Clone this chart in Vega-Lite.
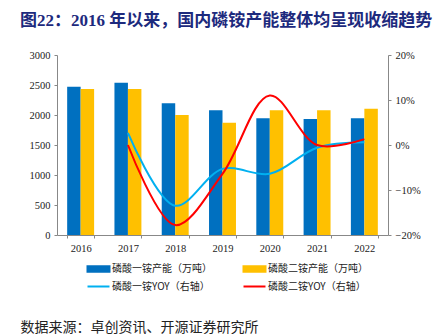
{
  "$schema": "https://vega.github.io/schema/vega-lite/v6.json",
  "width": 331,
  "height": 180,
  "autosize": {"type": "none"},
  "padding": {"left": 57, "top": 55, "right": 53, "bottom": 99},
  "background": "white",
  "config": {
    "view": {"stroke": null},
    "font": "Liberation Serif, Noto Sans CJK SC",
    "axis": {"labelFont": "Liberation Serif", "labelFontSize": 10.5, "labelColor": "#222", "domainColor": "#888", "tickColor": "#888", "tickSize": 3, "grid": false}
  },
  "title": {
    "text": "图22：2016 年以来，国内磷铵产能整体均呈现收缩趋势",
    "anchor": "start",
    "frame": "group",
    "dx": -37,
    "offset": 20,
    "fontSize": 17,
    "fontWeight": "bold",
    "color": "#1d2a7d",
    "font": "Liberation Serif, Noto Sans CJK SC"
  },
  "datasets": {
    "cap": [
      {"year": "2016", "series": "磷酸一铵产能（万吨）", "value": 2472},
      {"year": "2016", "series": "磷酸二铵产能（万吨）", "value": 2433},
      {"year": "2017", "series": "磷酸一铵产能（万吨）", "value": 2539},
      {"year": "2017", "series": "磷酸二铵产能（万吨）", "value": 2433},
      {"year": "2018", "series": "磷酸一铵产能（万吨）", "value": 2195},
      {"year": "2018", "series": "磷酸二铵产能（万吨）", "value": 2000},
      {"year": "2019", "series": "磷酸一铵产能（万吨）", "value": 2078},
      {"year": "2019", "series": "磷酸二铵产能（万吨）", "value": 1872},
      {"year": "2020", "series": "磷酸一铵产能（万吨）", "value": 1944},
      {"year": "2020", "series": "磷酸二铵产能（万吨）", "value": 2078},
      {"year": "2021", "series": "磷酸一铵产能（万吨）", "value": 1933},
      {"year": "2021", "series": "磷酸二铵产能（万吨）", "value": 2078},
      {"year": "2022", "series": "磷酸一铵产能（万吨）", "value": 1944},
      {"year": "2022", "series": "磷酸二铵产能（万吨）", "value": 2105}
    ],
    "yoy": [
      {"year": "2017", "series": "磷酸一铵YOY（右轴）", "yoy": 0.027},
      {"year": "2018", "series": "磷酸一铵YOY（右轴）", "yoy": -0.135},
      {"year": "2019", "series": "磷酸一铵YOY（右轴）", "yoy": -0.053},
      {"year": "2020", "series": "磷酸一铵YOY（右轴）", "yoy": -0.064},
      {"year": "2021", "series": "磷酸一铵YOY（右轴）", "yoy": -0.006},
      {"year": "2022", "series": "磷酸一铵YOY（右轴）", "yoy": 0.006},
      {"year": "2017", "series": "磷酸二铵YOY（右轴）", "yoy": 0.0},
      {"year": "2018", "series": "磷酸二铵YOY（右轴）", "yoy": -0.178},
      {"year": "2019", "series": "磷酸二铵YOY（右轴）", "yoy": -0.064},
      {"year": "2020", "series": "磷酸二铵YOY（右轴）", "yoy": 0.11},
      {"year": "2021", "series": "磷酸二铵YOY（右轴）", "yoy": 0.0},
      {"year": "2022", "series": "磷酸二铵YOY（右轴）", "yoy": 0.013}
    ]
  },
  "layer": [
    {
      "data": {"name": "cap"},
      "mark": {"type": "bar"},
      "encoding": {
        "x": {
          "field": "year", "type": "nominal",
          "scale": {"paddingInner": 0.43, "paddingOuter": 0.215},
          "axis": {
            "labelAngle": 0, "tickBand": "extent", "labelPadding": 5,
            "title": "数据来源：卓创资讯、开源证券研究所",
            "titleAnchor": "start", "titleAlign": "left", "titleBaseline": "middle",
            "titleX": -37, "titleY": 92,
            "titleFont": "Noto Sans CJK SC", "titleFontSize": 14, "titleFontWeight": "normal", "titleColor": "#222"
          }
        },
        "xOffset": {"field": "series", "type": "nominal", "sort": ["磷酸一铵产能（万吨）", "磷酸二铵产能（万吨）"]},
        "y": {
          "field": "value", "type": "quantitative",
          "scale": {"domain": [0, 3000]},
          "axis": {"values": [0, 500, 1000, 1500, 2000, 2500, 3000], "format": "d", "title": null, "labelPadding": 4}
        },
        "color": {
          "field": "series", "type": "nominal",
          "scale": {
            "domain": ["磷酸一铵产能（万吨）", "磷酸一铵YOY（右轴）", "磷酸二铵产能（万吨）", "磷酸二铵YOY（右轴）"],
            "range": ["#0070c0", "#00b0f0", "#ffc000", "#ff0000"]
          },
          "legend": {
            "title": null,
            "orient": "none",
            "legendX": 35,
            "legendY": 207,
            "columns": 2,
            "columnPadding": 27,
            "rowPadding": 4,
            "symbolSize": 121,
            "labelFont": "Noto Sans CJK SC",
            "labelFontSize": 10,
            "labelColor": "#222",
            "labelOffset": 7,
            "encode": {
              "symbols": {
                "update": {
                  "shape": {"signal": "indexof(datum.value, 'YOY') >= 0 ? 'M-2,0H2' : 'M-2,-0.5H2V0.5H-2Z'"},
                  "fill": {"signal": "indexof(datum.value, 'YOY') >= 0 ? 'transparent' : scale('color', datum.value)"},
                  "stroke": {"signal": "indexof(datum.value, 'YOY') >= 0 ? scale('color', datum.value) : 'transparent'"},
                  "strokeWidth": {"value": 2},
                  "opacity": {"value": 1}
                }
              }
            }
          }
        }
      }
    },
    {
      "data": {"name": "yoy"},
      "mark": {"type": "line", "interpolate": "catmull-rom", "strokeWidth": 2},
      "encoding": {
        "x": {"field": "year", "type": "nominal"},
        "y": {
          "field": "yoy", "type": "quantitative",
          "scale": {"domain": [-0.2, 0.2]},
          "axis": {"orient": "right", "values": [-0.2, -0.1, 0, 0.1, 0.2], "format": ".0%", "title": null, "labelPadding": 4}
        },
        "color": {"field": "series", "type": "nominal"}
      }
    }
  ],
  "resolve": {"scale": {"y": "independent"}}
}
